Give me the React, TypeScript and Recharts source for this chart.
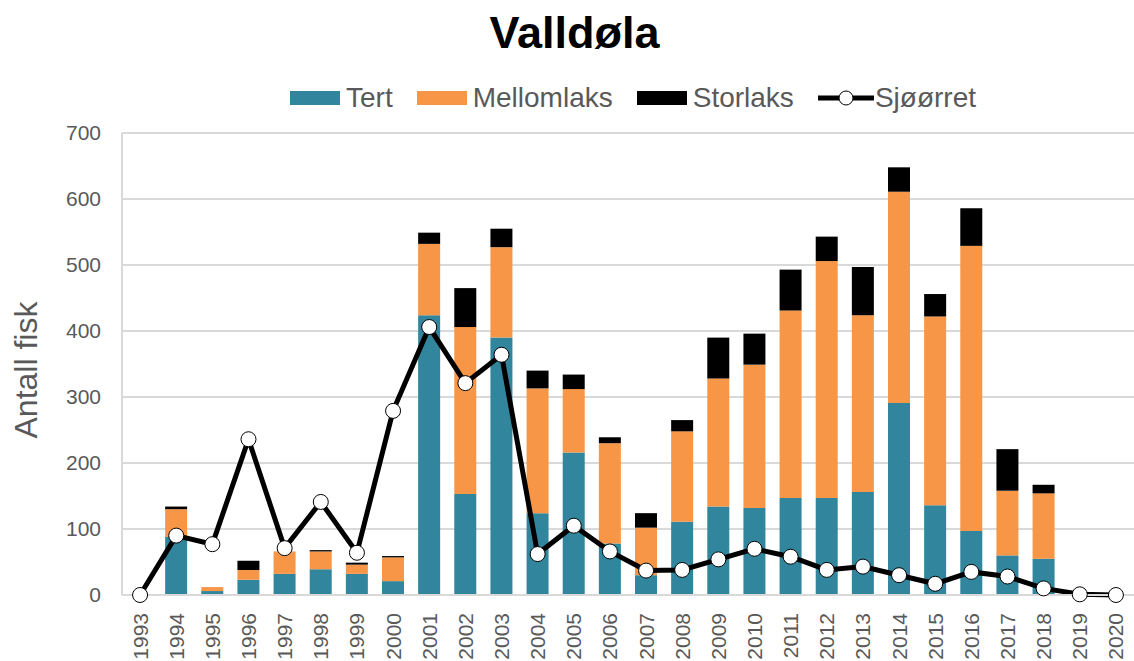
import React from "react";
import {
  ComposedChart,
  Bar,
  Line,
  XAxis,
  YAxis,
  CartesianGrid,
  Legend,
  Label,
} from "recharts";

const years = [
  "1993", "1994", "1995", "1996", "1997", "1998", "1999", "2000", "2001", "2002",
  "2003", "2004", "2005", "2006", "2007", "2008", "2009", "2010", "2011", "2012",
  "2013", "2014", "2015", "2016", "2017", "2018", "2019", "2020",
];
const tert = [0, 88, 6, 23, 32, 39, 32, 21, 424, 153, 390, 124, 216, 78, 30, 111, 134, 132, 147, 147, 156, 291, 136, 97, 60, 55, 0, 0];
const mellomlaks = [0, 42, 6, 15, 34, 27, 14, 36, 108, 253, 137, 189, 96, 152, 72, 137, 194, 217, 284, 359, 268, 320, 286, 432, 98, 99, 0, 0];
const storlaks = [0, 4, 0, 14, 0, 2, 3, 2, 17, 59, 28, 27, 22, 9, 22, 17, 62, 47, 62, 37, 73, 37, 34, 57, 63, 13, 0, 0];
const sjoorret = [0, 90, 77, 236, 71, 141, 64, 279, 406, 321, 364, 62, 105, 66, 37, 38, 54, 70, 58, 38, 43, 30, 17, 35, 28, 10, 1, 0];
const yTicks = [0, 100, 200, 300, 400, 500, 600, 700];

const TEAL = "#31859C";
const ORANGE = "#F79646";
const BLACK = "#000000";
const GRAY_TEXT = "#595959";
const GRID = "#d9d9d9";
const FONT = "'Liberation Sans', Arial, sans-serif";

const data = years.map((y, i) => ({
  year: y,
  Tert: tert[i],
  Mellomlaks: mellomlaks[i],
  Storlaks: storlaks[i],
  Sjoorret: sjoorret[i],
}));

const XTick = (props: any) => {
  const { x, y, payload } = props;
  return (
    <g transform={`translate(${x},${y})`}>
      <text
        transform="rotate(-90)"
        textAnchor="end"
        dy="0.36em"
        fill={GRAY_TEXT}
        fontSize={21}
        fontFamily={FONT}
      >
        {payload.value}
      </text>
    </g>
  );
};

const legendItems = [
  { name: "Tert", color: TEAL, type: "rect" },
  { name: "Mellomlaks", color: ORANGE, type: "rect" },
  { name: "Storlaks", color: BLACK, type: "rect" },
  { name: "Sjøørret", color: BLACK, type: "line" },
];

const renderLegend = () => (
  <div
    style={{
      display: "flex",
      alignItems: "center",
      paddingLeft: 290,
      fontFamily: FONT,
      fontSize: 28,
      color: GRAY_TEXT,
      lineHeight: "28px",
    }}
  >
    {legendItems.map((it) => (
      <div key={it.name} style={{ display: "flex", alignItems: "center", marginRight: 24 }}>
        {it.type === "rect" ? (
          <div style={{ width: 50, height: 14, background: it.color, marginRight: 6 }} />
        ) : (
          <svg width={56} height={18} style={{ marginRight: 1 }}>
            <line x1={0} y1={9} x2={56} y2={9} stroke={BLACK} strokeWidth={5} />
            <circle cx={28} cy={9} r={7} fill="#fff" stroke={BLACK} strokeWidth={1} />
          </svg>
        )}
        <span>{it.name}</span>
      </div>
    ))}
  </div>
);

export default function App() {
  return (
    <div style={{ position: "absolute", left: 0, top: 0, width: 1134, height: 661, background: "#fff" }}>
      <div
        style={{
          position: "absolute",
          left: 0,
          top: 10,
          width: 1149,
          textAlign: "center",
          fontFamily: FONT,
          fontWeight: "bold",
          fontSize: 45,
          lineHeight: "45px",
          color: "#000",
        }}
      >
        Valldøla
      </div>
      <ComposedChart
        width={1134}
        height={661}
        data={data}
        margin={{ top: 133, right: 0, bottom: 0, left: 0 }}
        barSize={22}
      >
        <CartesianGrid vertical={false} stroke={GRID} strokeWidth={2} />
        <XAxis
          dataKey="year"
          interval={0}
          height={66}
          tickLine={false}
          tickSize={6}
          tickMargin={12}
          axisLine={{ stroke: GRID, strokeWidth: 2 }}
          tick={<XTick />}
        />
        <YAxis
          width={122}
          domain={[0, 700]}
          ticks={yTicks}
          interval={0}
          tickLine={false}
          tickSize={6}
          tickMargin={15}
          axisLine={{ stroke: GRID, strokeWidth: 2 }}
          tick={{ fill: GRAY_TEXT, fontSize: 21, fontFamily: FONT }}
        >
          <Label
            content={(p: any) => {
              const vb = p.viewBox || { x: 0, y: 133, width: 122, height: 462 };
              const cx = vb.x + 37;
              const cy = vb.y + vb.height / 2 + 6;
              return (
                <text
                  x={cx}
                  y={cy}
                  transform={`rotate(-90, ${cx}, ${cy})`}
                  textAnchor="middle"
                  fill={GRAY_TEXT}
                  fontSize={32}
                  fontFamily={FONT}
                >
                  Antall fisk
                </text>
              );
            }}
          />
        </YAxis>
        <Legend
          layout="horizontal"
          verticalAlign="middle"
          align="center"
          content={renderLegend}
          wrapperStyle={{ position: "absolute", top: 84, left: 0, width: 1134 }}
        />
        <Bar dataKey="Tert" stackId="a" fill={TEAL} isAnimationActive={false} />
        <Bar dataKey="Mellomlaks" stackId="a" fill={ORANGE} isAnimationActive={false} />
        <Bar dataKey="Storlaks" stackId="a" fill={BLACK} isAnimationActive={false} />
        <Line
          dataKey="Sjoorret"
          name="Sjøørret"
          stroke={BLACK}
          strokeWidth={5}
          dot={{ r: 7.5, fill: "#fff", stroke: BLACK, strokeWidth: 1 }}
          activeDot={false}
          isAnimationActive={false}
        />
      </ComposedChart>
    </div>
  );
}
